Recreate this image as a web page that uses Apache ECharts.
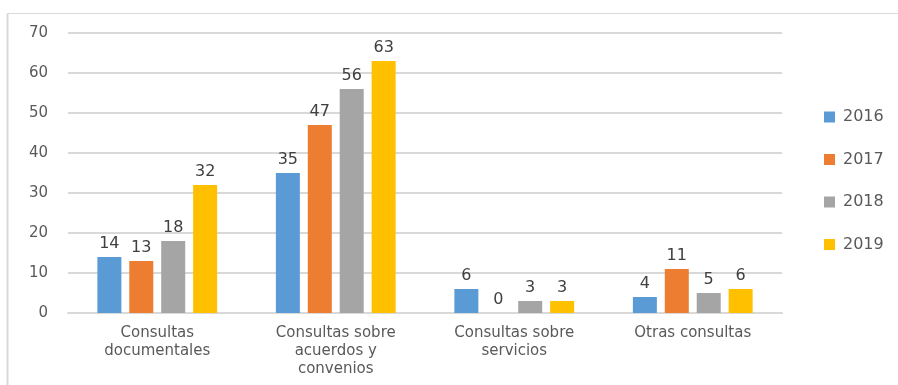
<!DOCTYPE html>
<html><head><meta charset="utf-8">
<script src="https://cdn.jsdelivr.net/npm/echarts@6/dist/echarts.min.js"></script>
<style>html,body{margin:0;padding:0;background:#fff}#c{width:898px;height:385px}</style>
</head><body><div id="c"></div>
<script>
const categories = ['Consultas\ndocumentales', 'Consultas sobre\nacuerdos y\nconvenios', 'Consultas sobre\nservicios', 'Otras consultas'];
const seriesNames = ['2016', '2017', '2018', '2019'];
const v2016 = [14, 35, 6, 4];
const v2017 = [13, 47, 0, 11];
const v2018 = [18, 56, 3, 5];
const v2019 = [32, 63, 3, 6];
const yTicks = {min: 0, max: 70, interval: 10};
const colors = ['#5b9bd5', '#ed7d31', '#a5a5a5', '#ffc000'];
const values = [v2016, v2017, v2018, v2019];
const font = 'DejaVu Sans';
const chart = echarts.init(document.getElementById('c'));
chart.setOption({
  animation: false,
  textStyle: {fontFamily: font},
  graphic: [
    {type: 'line', shape: {x1: 7.5, y1: 13.5, x2: 898, y2: 13.5}, style: {stroke: '#d9d9d9', lineWidth: 1}},
    {type: 'line', shape: {x1: 7.5, y1: 13.5, x2: 7.5, y2: 385}, style: {stroke: '#d9d9d9', lineWidth: 2}}
  ],
  grid: {left: 68, right: 116, top: 33, bottom: 72, containLabel: false},
  legend: {
    orient: 'vertical', left: 819, top: 104, itemGap: 26.5, itemWidth: 11, itemHeight: 11,
    icon: 'rect', textStyle: {fontSize: 16, color: '#595959', fontFamily: font, padding: [0, 0, 0, 3]}
  },
  xAxis: {
    type: 'category', data: categories,
    axisLine: {lineStyle: {color: '#d9d9d9', width: 2}}, axisTick: {show: false},
    axisLabel: {fontSize: 15, color: '#595959', lineHeight: 18, margin: 11, interval: 0, fontFamily: font}
  },
  yAxis: {
    type: 'value', min: yTicks.min, max: yTicks.max, interval: yTicks.interval,
    axisLine: {show: false}, axisTick: {show: false},
    axisLabel: {fontSize: 15, color: '#595959', margin: 20, fontFamily: font},
    splitLine: {lineStyle: {color: '#d9d9d9', width: 2}}
  },
  series: seriesNames.map((n, i) => ({
    name: n, type: 'bar', data: values[i], barWidth: 24, barGap: '33%',
    itemStyle: {color: colors[i]},
    label: {show: true, position: 'top', fontSize: 16, color: '#404040', distance: 5, fontFamily: font}
  }))
});
</script></body></html>
